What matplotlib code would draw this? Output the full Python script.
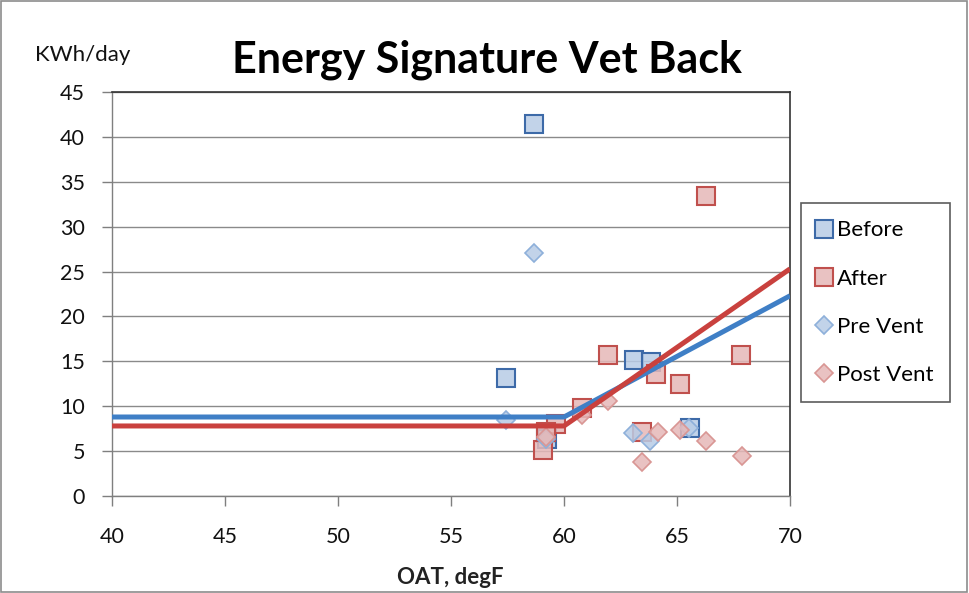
import matplotlib
matplotlib.use("Agg")
import matplotlib.pyplot as plt
from matplotlib.patches import Rectangle

plt.rcParams['font.family'] = ['Lato', 'DejaVu Sans']

# Daily energy use vs outside air temperature
before_x = [58.67, 57.43, 63.1, 63.85, 65.58, 59.2, 59.25]
before_y = [41.4, 13.1, 15.1, 14.9, 7.6, 7.0, 6.3]

after_x = [66.3, 61.95, 67.83, 64.07, 65.13, 60.8, 59.65, 59.2, 59.07, 63.45]
after_y = [33.4, 15.7, 15.7, 13.6, 12.5, 9.8, 8.0, 7.1, 5.1, 7.1]

pre_x = [58.67, 57.43, 63.05, 63.8, 59.2, 65.55]
pre_y = [27.1, 8.5, 7.0, 6.1, 6.3, 7.6]

post_x = [61.95, 60.8, 63.45, 64.16, 65.13, 66.3, 67.88, 59.2]
post_y = [10.6, 9.0, 3.8, 7.1, 7.4, 6.1, 4.5, 6.6]

# Change-point fits (flat base load, then linear rise)
pre_fit_x = [40, 60.0, 70]
pre_fit_y = [8.8, 8.8, 22.3]
post_fit_x = [40, 60.0, 70]
post_fit_y = [7.8, 7.8, 25.3]

x_ticks = [40, 45, 50, 55, 60, 65, 70]
y_ticks = [0, 5, 10, 15, 20, 25, 30, 35, 40, 45]

fig = plt.figure(figsize=(9.69, 5.93), dpi=100)
fig.patches.append(Rectangle((0.001, 0.001), 0.997, 0.997, transform=fig.transFigure,
                             fill=False, edgecolor='#8c8c8c', linewidth=1.2))

ax = fig.add_axes([112/969, 1 - 496/593, 678/969, 404/593])

blue_fill = (0.72, 0.80, 0.90, 0.85)
red_fill = (0.90, 0.72, 0.72, 0.85)

ax.plot(before_x, before_y, ls='none', marker='s', ms=13, mfc=blue_fill,
        mec='#3d6aa8', mew=1.5, label='Before', zorder=3)
ax.plot(after_x, after_y, ls='none', marker='s', ms=13, mfc=red_fill,
        mec='#c0504d', mew=1.5, label='After', zorder=3)
ax.plot(pre_x, pre_y, ls='none', marker='D', ms=9.5, mfc=blue_fill,
        mec='#8eb0da', mew=1.2, label='Pre Vent', zorder=3)
ax.plot(post_x, post_y, ls='none', marker='D', ms=9.5, mfc=red_fill,
        mec='#d99694', mew=1.2, label='Post Vent', zorder=3)

ax.plot(pre_fit_x, pre_fit_y, color='#3f7fc6', lw=3.6, zorder=4, solid_capstyle='butt')
ax.plot(post_fit_x, post_fit_y, color='#c9413e', lw=3.6, zorder=4, solid_capstyle='butt')

ax.set_xlim(40, 70)
ax.set_ylim(0, 45)
ax.set_xticks(x_ticks)
ax.set_yticks(y_ticks)
ax.grid(axis='y', color='#8a8a8a', lw=1)
ax.set_axisbelow(True)
for s in ['top', 'right']:
    ax.spines[s].set_color('#333333')
    ax.spines[s].set_linewidth(1.2)
for s in ['left', 'bottom']:
    ax.spines[s].set_color('#7f7f7f')
    ax.spines[s].set_linewidth(1)
ax.tick_params(axis='both', direction='out', length=7.5, width=1, color='#7f7f7f',
               labelsize=15.5, labelcolor='#111111')
ax.tick_params(axis='x', pad=15)
ax.tick_params(axis='y', pad=12)

fig.text(487/969, 1 - 73/593, 'Energy Signature Vet Back', ha='center', va='baseline',
         fontsize=31, fontweight='bold', color='black')
fig.text(83/969, 1 - 55/593, 'KWh/day', ha='center', va='center',
         fontsize=16, color='#111111')
fig.text(450/969, 1 - 578/593, 'OAT, degF', ha='center', va='center',
         fontsize=16, fontweight='bold', color='#222222')

leg = fig.legend(loc='upper left', bbox_to_anchor=(801/969, 1 - 203/593),
                 frameon=True, fancybox=False, edgecolor='#333333',
                 fontsize=16, handlelength=0.5, handletextpad=0.32,
                 labelspacing=1.27, borderpad=0.78, borderaxespad=0,
                 markerscale=1.0)
leg.get_frame().set_linewidth(1.2)

fig.savefig('out.png', dpi=100)
